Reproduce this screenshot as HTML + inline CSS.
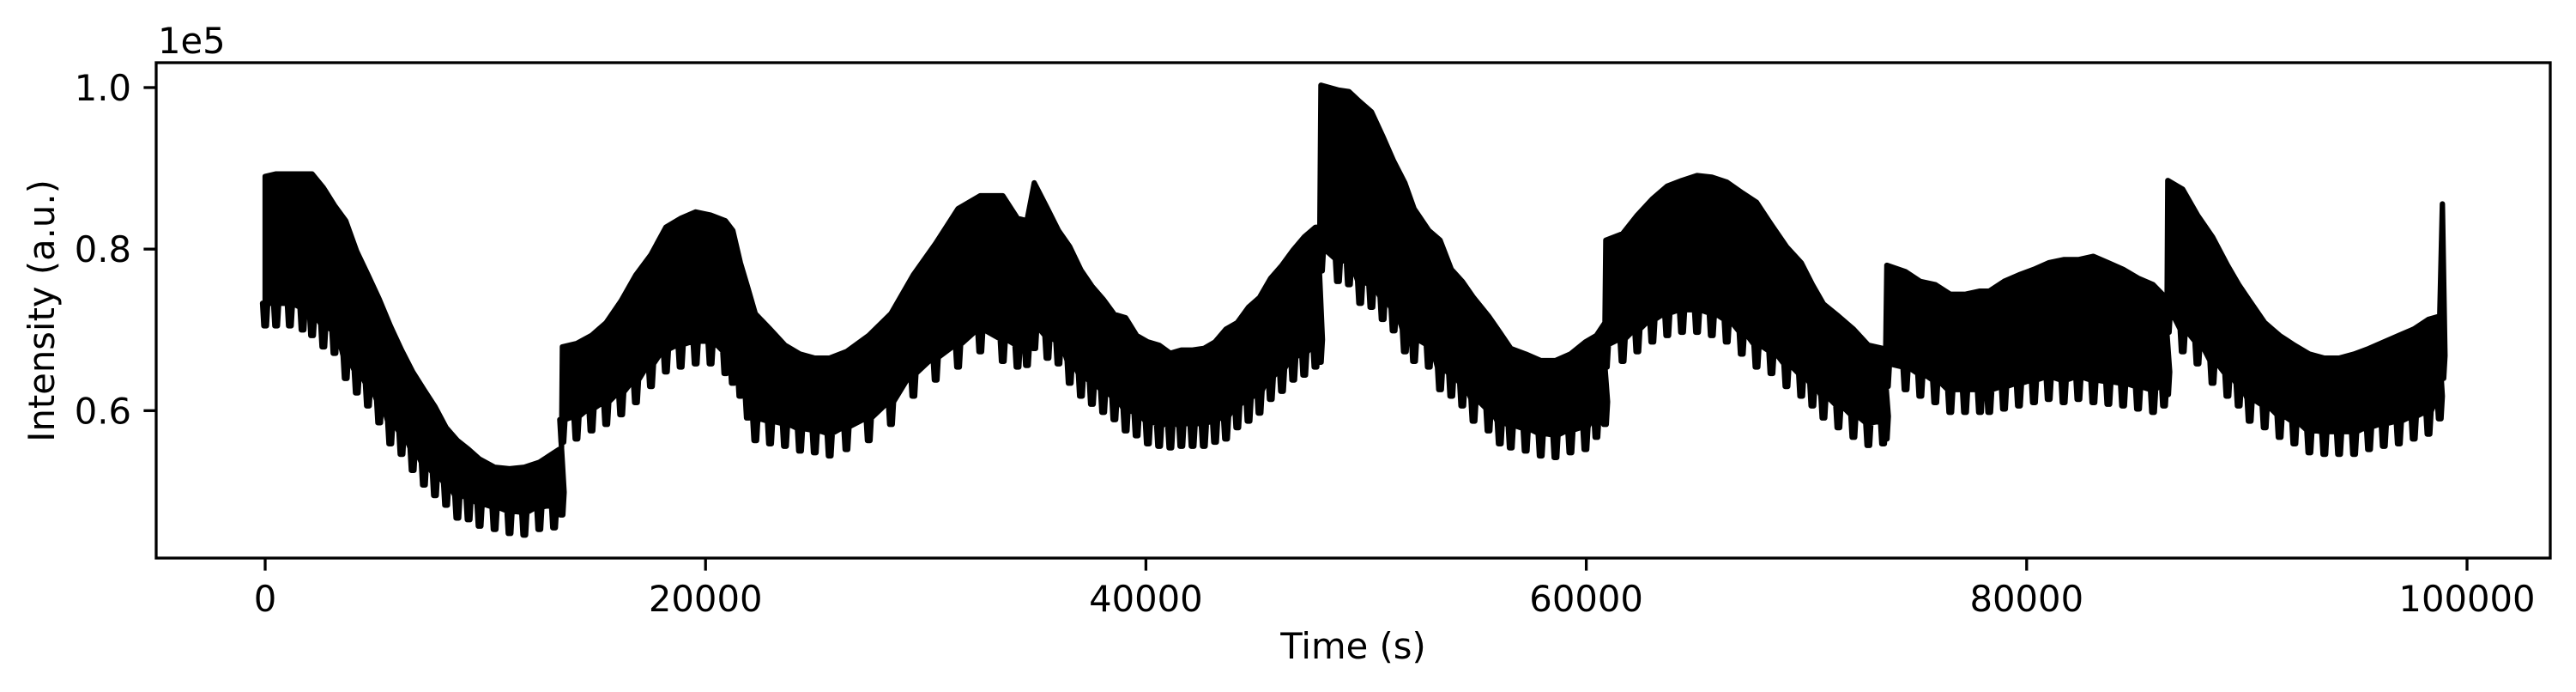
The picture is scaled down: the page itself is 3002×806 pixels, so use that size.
<!DOCTYPE html>
<html><head><meta charset="utf-8">
<style>
html,body{margin:0;padding:0;background:#fff;}
svg{display:block;}
text{font-family:"DejaVu Sans","Liberation Sans",sans-serif;fill:#000;}
</style></head>
<body>
<svg id="chart" width="3002" height="806" viewBox="0 0 3002 806" xmlns="http://www.w3.org/2000/svg">
<rect width="3002" height="806" fill="#fff"/>
<g id="plot"></g>
<g id="axes"></g>
</svg>
<script>
// Data (time in s, intensity in units of 1e5)
const times = [0,500,1120,1700,2130,2640,3150,3660,4160,4670,5180,5680,6190,6700,7210,7710,8220,8730,9240,9740,10420,11100,11770,12450,13120,13460,
13500,14140,14820,15490,16170,16840,17520,18200,18870,19550,20230,20900,21240,21580,21920,22260,22930,23610,24290,24960,25640,26400,27410,28420,29440,30450,31470,32480,33500,34170,34600,34930,35530,36030,36540,37050,37550,38060,38570,39080,39580,40090,40600,41110,41610,42120,42630,43140,43640,44150,44660,45160,45670,46180,46690,47190,47700,47900,
47950,48720,49220,49730,50240,50750,51250,51760,52180,52850,53360,53870,54370,54880,55560,56070,56570,57250,57930,58600,59280,59960,60460,60850,
60890,61650,62320,63000,63680,64350,65030,65700,66380,67060,67730,68410,69090,69760,70270,70770,71450,72130,72810,73480,73600,
73650,74500,75170,75850,76530,77200,77880,78300,78970,79650,80330,81000,81680,82350,83030,83710,84380,85060,85740,86240,86380,
86410,87090,87760,88440,89120,89630,90130,90810,91490,92160,92840,93520,94190,94870,95550,96220,96900,97580,98250,98760,98880];
const topValues = [0.89,0.893,0.893,0.893,0.893,0.876,0.854,0.835,0.797,0.768,0.738,0.705,0.675,0.648,0.626,0.605,0.579,0.563,0.552,0.540,0.530,0.528,0.530,0.536,0.548,0.554,
0.679,0.683,0.693,0.709,0.736,0.768,0.793,0.827,0.838,0.846,0.842,0.835,0.823,0.783,0.752,0.720,0.701,0.681,0.670,0.665,0.665,0.673,0.693,0.720,0.768,0.807,0.850,0.866,0.866,0.838,0.835,0.882,0.850,0.823,0.803,0.774,0.754,0.738,0.719,0.715,0.693,0.685,0.681,0.671,0.675,0.675,0.677,0.685,0.701,0.709,0.728,0.740,0.764,0.780,0.799,0.815,0.827,0.827,
1.003,0.997,0.995,0.982,0.970,0.940,0.909,0.882,0.850,0.823,0.811,0.775,0.760,0.740,0.717,0.697,0.677,0.670,0.662,0.662,0.670,0.685,0.693,0.709,
0.811,0.819,0.842,0.862,0.878,0.885,0.891,0.889,0.883,0.870,0.858,0.830,0.803,0.783,0.756,0.732,0.717,0.701,0.681,0.677,0.677,
0.780,0.772,0.760,0.756,0.744,0.744,0.748,0.748,0.760,0.768,0.775,0.783,0.787,0.787,0.791,0.783,0.775,0.764,0.756,0.742,0.742,
0.885,0.874,0.842,0.815,0.780,0.756,0.736,0.709,0.693,0.681,0.670,0.665,0.665,0.670,0.677,0.685,0.693,0.701,0.713,0.717,0.856];
const dipValues = [0.705,0.705,0.705,0.70,0.693,0.679,0.671,0.640,0.622,0.606,0.585,0.559,0.546,0.526,0.508,0.495,0.483,0.467,0.465,0.457,0.453,0.448,0.446,0.453,0.455,0.471,
0.561,0.565,0.575,0.583,0.595,0.610,0.630,0.648,0.654,0.658,0.658,0.646,0.634,0.618,0.591,0.563,0.559,0.556,0.550,0.548,0.544,0.552,0.563,0.583,0.618,0.638,0.654,0.673,0.661,0.654,0.656,0.677,0.665,0.658,0.634,0.618,0.608,0.598,0.589,0.575,0.569,0.559,0.556,0.554,0.556,0.556,0.556,0.561,0.565,0.579,0.587,0.597,0.614,0.624,0.638,0.644,0.654,0.66,
0.773,0.760,0.756,0.733,0.728,0.713,0.699,0.673,0.661,0.654,0.626,0.618,0.606,0.587,0.575,0.559,0.554,0.550,0.544,0.542,0.548,0.552,0.567,0.583,
0.654,0.661,0.673,0.685,0.693,0.697,0.697,0.693,0.685,0.670,0.654,0.646,0.630,0.618,0.606,0.591,0.579,0.567,0.557,0.559,0.565,
0.630,0.626,0.618,0.610,0.598,0.598,0.598,0.598,0.602,0.606,0.610,0.614,0.610,0.614,0.610,0.608,0.606,0.602,0.598,0.606,0.62,
0.697,0.673,0.658,0.634,0.618,0.606,0.587,0.579,0.567,0.559,0.548,0.546,0.546,0.546,0.552,0.556,0.559,0.565,0.571,0.590,0.64];
const xTickValues = [0,20000,40000,60000,80000,100000];
const xTickLabels = ["0","20000","40000","60000","80000","100000"];
const yTickValues = [0.6,0.8,1.0];
const yTickLabels = ["0.6","0.8","1.0"];

const L=182, R=2972, T=73, B=650;
const xMin=-4950, xMax=103780;
const yMin=0.4175, yMax=1.0308;
function xs(v){return L+(v-xMin)/(xMax-xMin)*(R-L);}
function ys(v){return B-(v-yMin)/(yMax-yMin)*(B-T);}
const NS="http://www.w3.org/2000/svg";
function mk(tag,attrs,parent){const e=document.createElementNS(NS,tag);for(const k in attrs)e.setAttribute(k,attrs[k]);parent.appendChild(e);return e;}

const plot=document.getElementById('plot');
let d='M'+xs(times[0]).toFixed(1)+','+ys(dipValues[0]).toFixed(1);
for(let i=0;i<times.length;i++){d+=' L'+xs(times[i]).toFixed(1)+','+ys(topValues[i]).toFixed(1);}
const toothDepth=0.028;
for(let i=times.length-1;i>=0;i--){
  const x=xs(times[i]);
  const body=ys(Math.min(topValues[i],dipValues[i]+toothDepth));
  d+=' L'+(x+3).toFixed(1)+','+body.toFixed(1);
  d+=' L'+(x+1.5).toFixed(1)+','+ys(dipValues[i]).toFixed(1);
  d+=' L'+(x-1.5).toFixed(1)+','+ys(dipValues[i]).toFixed(1);
  d+=' L'+(x-3).toFixed(1)+','+body.toFixed(1);
}
d+=' Z';
const sig=mk('path',{d:d,fill:'#000',stroke:'#000','stroke-width':6.25,'stroke-linejoin':'round'},plot);



const axes=document.getElementById('axes');
const frame=mk('rect',{x:L,y:T,width:R-L,height:B-T,fill:'none',stroke:'#000','stroke-width':3.3},axes);


for(let i=0;i<xTickValues.length;i++){
  const x=xs(xTickValues[i]);
  const tk=mk('line',{x1:x,y1:B,x2:x,y2:B+14.6,stroke:'#000','stroke-width':3.3},axes);
  
  
  const t=mk('text',{x:x,y:712,'text-anchor':'middle','font-size':41.7},axes);
  t.textContent=xTickLabels[i];
  
  
}
for(let i=0;i<yTickValues.length;i++){
  const y=ys(yTickValues[i]);
  const tk=mk('line',{x1:L-14.6,y1:y,x2:L,y2:y,stroke:'#000','stroke-width':3.3},axes);
  
  
  const t=mk('text',{x:L-29,y:y+15,'text-anchor':'end','font-size':41.7},axes);
  t.textContent=yTickLabels[i];
  
  
}
</script>
<svg style="position:absolute;left:0;top:0" width="3002" height="806" xmlns="http://www.w3.org/2000/svg">
<text x="184" y="62" font-size="41.7">1e5</text>
<text x="1577" y="767" text-anchor="middle" font-size="41.7">Time (s)</text>
<text x="63" y="362" text-anchor="middle" font-size="41.7" transform="rotate(-90 63 362)">Intensity (a.u.)</text>
</svg>
</body></html>
